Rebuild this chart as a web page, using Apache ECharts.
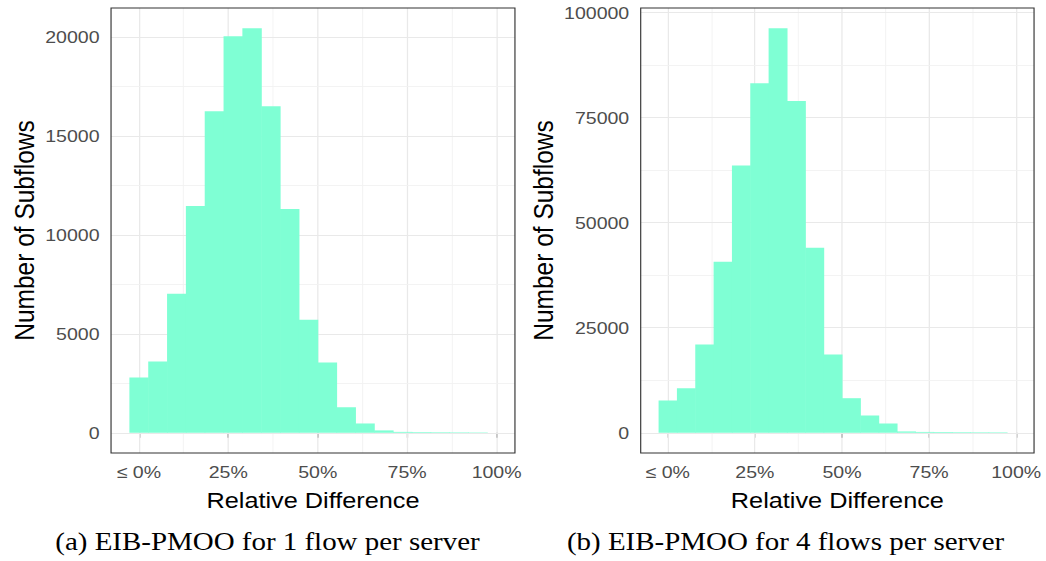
<!DOCTYPE html>
<html>
<head>
<meta charset="utf-8">
<script src="https://cdn.jsdelivr.net/npm/echarts@6/dist/echarts.min.js"></script>
<style>
  html, body { margin: 0; padding: 0; background: #ffffff; overflow: hidden; }
  /* the figure is laid out narrower and stretched horizontally to its final width */
  #chart { width: 910px; height: 561px; transform: scaleX(1.149451); transform-origin: 0 0; }
</style>
</head>
<body>
<div id="chart"></div>
<script>
// ---- histogram data: 19 equal bins, the first one centred on 0 % ----
const binWidth = 100 / 19;
const countsOneFlow = [2790, 3600, 7020, 11460, 16250, 20030, 20440, 16500, 11310, 5710,
                       3550, 1290, 470, 120, 45, 35, 30, 25, 20];
const countsFourFlows = [7680, 10610, 20980, 40700, 63580, 83210, 96280, 78940, 44020, 18610,
                         8230, 4120, 2220, 320, 200, 170, 150, 130, 110];

// ---- axis ticks and labels ----
const xTickValues = [0, 25, 50, 75, 100];
const xTickLabels = ['\u2264 0%', '25%', '50%', '75%', '100%'];
const xMinorValues = [12.5, 37.5, 62.5, 87.5];
const yTicksOneFlow = [0, 5000, 10000, 15000, 20000];
const yMinorOneFlow = [2500, 7500, 12500, 17500];
const yTicksFourFlows = [0, 25000, 50000, 75000, 100000];
const yMinorFourFlows = [12500, 37500, 62500, 87500];

const xTitle = 'Relative Difference';
const yTitle = 'Number of Subflows';
const captions = ['(a) EIB-PMOO for 1 flow per server', '(b) EIB-PMOO for 4 flows per server'];

// ---- styling ----
const FILL = '#7fffd4';
const SANS = 'Liberation Sans';
const SERIF = 'Liberation Serif';
const TICK_GREY = '#4d4d4d';
const BORDER = '#333333';

// histogram rows: [left edge, right edge, count]
function toBins(counts) {
  return counts.map((c, i) => [i * binWidth - binWidth / 2, i * binWidth + binWidth / 2, c]);
}

// panel limits with a 5 % margin on every side of the data range
const xLo = -binWidth / 2, xHi = 100;
const xMin = xLo - 0.05 * (xHi - xLo);
const xMax = xHi + 0.05 * (xHi - xLo);
function yLimits(counts) {
  const m = Math.max(...counts);
  return [-0.05 * m, 1.05 * m];
}

function renderBar(params, api) {
  const top = api.coord([api.value(0), api.value(2)]);
  const base = api.coord([api.value(1), 0]);
  return {
    type: 'rect',
    shape: { x: top[0], y: top[1], width: base[0] - top[0] + 0.5, height: base[1] - top[1] },
    style: { fill: FILL }
  };
}

function gridLines(idx, yMajor, yMinor) {
  const major = { color: '#e9e9e9', width: 1.1, type: 'solid' };
  const minor = { color: '#f1f1f1', width: 0.8, type: 'solid' };
  const data = []
    .concat(xTickValues.map(v => ({ xAxis: v, lineStyle: major })))
    .concat(xMinorValues.map(v => ({ xAxis: v, lineStyle: minor })))
    .concat(yMajor.map(v => ({ yAxis: v, lineStyle: major })))
    .concat(yMinor.map(v => ({ yAxis: v, lineStyle: minor })));
  return {
    type: 'line', xAxisIndex: idx, yAxisIndex: idx, data: [], z: 1, silent: true,
    markLine: {
      z: 1, silent: true, symbol: ['none', 'none'], label: { show: false },
      emphasis: { disabled: true }, animation: false, data: data
    }
  };
}

function xAxisFor(idx) {
  return {
    type: 'value', gridIndex: idx, min: xMin, max: xMax,
    name: xTitle, nameLocation: 'middle', nameGap: 37,
    nameTextStyle: { fontFamily: SANS, fontSize: 22, color: '#000000' },
    axisLine: { show: false },
    axisTick: { show: true, length: 5, customValues: xTickValues, lineStyle: { color: BORDER, width: 1 } },
    axisLabel: {
      show: true, customValues: xTickValues, margin: 10,
      fontFamily: SANS, fontSize: 17, color: TICK_GREY,
      formatter: v => xTickLabels[xTickValues.indexOf(v)]
    },
    splitLine: { show: false }
  };
}

function yAxisFor(idx, lim, ticks, gap) {
  return {
    type: 'value', gridIndex: idx, min: lim[0], max: lim[1],
    name: yTitle, nameLocation: 'middle', nameGap: gap, nameRotate: 90,
    nameTextStyle: { fontFamily: SANS, fontSize: 24.5, color: '#000000' },
    axisLine: { show: false },
    axisTick: { show: true, length: 4.4, customValues: ticks, lineStyle: { color: BORDER, width: 1 } },
    axisLabel: {
      show: true, customValues: ticks, margin: 10,
      fontFamily: SANS, fontSize: 17, color: TICK_GREY,
      formatter: v => String(v)
    },
    splitLine: { show: false }
  };
}

const chart = echarts.init(document.getElementById('chart'), null, { renderer: 'svg' });

chart.setOption({
  animation: false,
  backgroundColor: '#ffffff',
  grid: [
    { left: 96.6, top: 8, width: 351.4, height: 445, show: true, borderColor: BORDER, borderWidth: 1, backgroundColor: 'transparent', z: 5 },
    { left: 557.4, top: 8, width: 342.2, height: 445, show: true, borderColor: BORDER, borderWidth: 1, backgroundColor: 'transparent', z: 5 }
  ],
  xAxis: [xAxisFor(0), xAxisFor(1)],
  yAxis: [
    yAxisFor(0, yLimits(countsOneFlow), yTicksOneFlow, 63),
    yAxisFor(1, yLimits(countsFourFlows), yTicksFourFlows, 72)
  ],
  graphic: [
    { type: 'text', x: 232.7, y: 541.5, silent: true,
      style: { text: captions[0], fontFamily: SERIF, fontSize: 25.2, fill: '#000000', align: 'center', verticalAlign: 'middle' } },
    { type: 'text', x: 683.4, y: 541.5, silent: true,
      style: { text: captions[1], fontFamily: SERIF, fontSize: 25.2, fill: '#000000', align: 'center', verticalAlign: 'middle' } }
  ],
  series: [
    gridLines(0, yTicksOneFlow, yMinorOneFlow),
    gridLines(1, yTicksFourFlows, yMinorFourFlows),
    { type: 'custom', xAxisIndex: 0, yAxisIndex: 0, z: 3, silent: true,
      renderItem: renderBar, encode: { x: [0, 1], y: 2 }, data: toBins(countsOneFlow) },
    { type: 'custom', xAxisIndex: 1, yAxisIndex: 1, z: 3, silent: true,
      renderItem: renderBar, encode: { x: [0, 1], y: 2 }, data: toBins(countsFourFlows) }
  ]
});
</script>
</body>
</html>
